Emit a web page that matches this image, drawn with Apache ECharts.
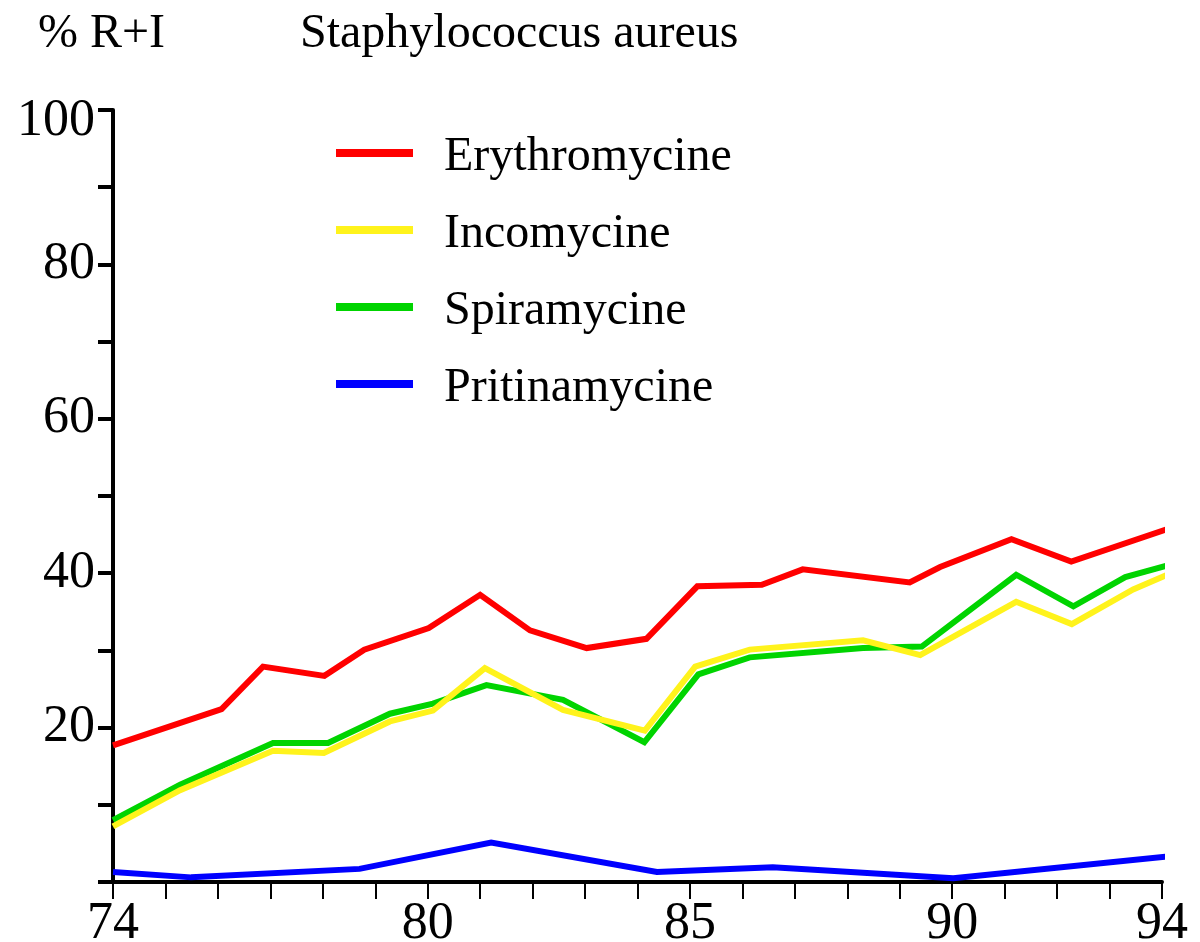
<!DOCTYPE html>
<html>
<head>
<meta charset="utf-8">
<title>Staphylococcus aureus</title>
<script src="https://cdn.jsdelivr.net/npm/echarts@6/dist/echarts.min.js"></script>
<style>
  html, body { margin: 0; padding: 0; background: #fff; }
  #chart { width: 1200px; height: 942px; }
</style>
</head>
<body>
<div id="chart"></div>
<script>
var eryYears = [74, 76.07, 76.86, 78.03, 78.79, 80.02, 81.0, 81.95, 83.03, 84.17, 85.14, 86.37, 87.15, 89.19, 89.77, 91.13, 92.27, 94.1]
var eryValues = [17.7, 22.4, 27.9, 26.7, 30.1, 32.9, 37.2, 32.6, 30.3, 31.5, 38.3, 38.5, 40.5, 38.8, 40.8, 44.4, 41.5, 45.7]

var incoYears = [74, 75.28, 77.05, 78.02, 79.28, 80.1, 81.09, 82.58, 84.14, 85.1, 86.14, 88.3, 89.39, 91.22, 92.28, 93.45, 94.1]
var incoValues = [7.2, 11.9, 17.0, 16.7, 20.8, 22.2, 27.7, 22.3, 19.6, 27.9, 30.1, 31.3, 29.4, 36.3, 33.4, 37.9, 39.8]

var spiraYears = [74, 75.28, 77.05, 78.1, 79.28, 80.1, 81.12, 82.58, 84.13, 85.16, 86.14, 88.3, 89.42, 91.22, 92.31, 93.3, 94.1]
var spiraValues = [8.0, 12.6, 18.0, 18.0, 21.8, 23.1, 25.5, 23.6, 18.1, 26.9, 29.1, 30.3, 30.5, 39.8, 35.7, 39.5, 41.0]

var pritiYears = [74, 75.49, 78.7, 81.21, 84.37, 86.58, 90.02, 94.1]
var pritiValues = [1.3, 0.6, 1.7, 5.1, 1.3, 1.9, 0.5, 3.3]

var xLabels = [74, 80, 85, 90, 94]
var yLabels = [20, 40, 60, 80, 100]

var seriesNames = ['Erythromycine', 'Incomycine', 'Spiramycine', 'Pritinamycine']
var seriesColors = ['#ff0000', '#fff31c', '#00d400', '#0000ff']

function pairs(xs, ys) {
  return xs.map(function (x, i) { return [x, ys[i]] })
}

var allData = [
  pairs(eryYears, eryValues),
  pairs(incoYears, incoValues),
  pairs(spiraYears, spiraValues),
  pairs(pritiYears, pritiValues)
]

var font = 'Liberation Serif, Times New Roman, serif'

var chart = echarts.init(document.getElementById('chart'))
chart.setOption({
  animation: false,
  backgroundColor: '#ffffff',
  title: [{
    text: '% R+I',
    left: 38,
    top: 10,
    padding: 0,
    textStyle: { fontFamily: font, fontSize: 48, fontWeight: 'normal', color: '#000' }
  }, {
    text: 'Staphylococcus aureus',
    left: 300,
    top: 10,
    padding: 0,
    textStyle: { fontFamily: font, fontSize: 48, fontWeight: 'normal', color: '#000' }
  }],
  legend: {
    data: seriesNames,
    orient: 'vertical',
    left: 336,
    top: 125,
    padding: 0,
    icon: 'rect',
    itemWidth: 77,
    itemHeight: 8,
    itemGap: 21,
    formatter: function (name) {
      return '{n|' + name + '}'
    },
    textStyle: {
      fontFamily: font,
      fontSize: 48,
      color: '#000',
      rich: {
        n: { fontFamily: font, fontSize: 48, lineHeight: 48, color: '#000', padding: [8, 0, 0, 26] }
      }
    }
  },
  grid: {
    left: 113,
    right: 38,
    top: 110,
    bottom: 60,
    containLabel: false,
    outerBoundsMode: 'none'
  },
  xAxis: {
    type: 'value',
    min: 74,
    max: 94,
    interval: 1,
    splitLine: { show: false },
    axisLine: { show: true, onZero: false, lineStyle: { color: '#000', width: 4 } },
    axisTick: { show: true, length: 17, lineStyle: { color: '#000', width: 2 } },
    axisLabel: {
      margin: 16,
      fontFamily: font,
      fontSize: 52,
      color: '#000',
      showMinLabel: true,
      showMaxLabel: true,
      formatter: function (v) {
        return xLabels.indexOf(v) >= 0 ? String(v) : ''
      }
    }
  },
  yAxis: {
    type: 'value',
    min: 0,
    max: 100,
    interval: 10,
    splitLine: { show: false },
    axisLine: { show: true, lineStyle: { color: '#000', width: 4 } },
    axisTick: { show: true, length: 15, lineStyle: { color: '#000', width: 4 } },
    axisLabel: {
      margin: 18,
      fontFamily: font,
      fontSize: 52,
      color: '#000',
      formatter: function (v) {
        if (v === 100) return '{top|100}'
        return yLabels.indexOf(v) >= 0 ? String(v) : ''
      },
      rich: {
        top: { fontFamily: font, fontSize: 52, color: '#000', align: 'right', padding: [22, 0, 0, 0] }
      }
    }
  },
  series: seriesNames.map(function (name, i) {
    return {
      name: name,
      type: 'line',
      data: allData[i],
      color: seriesColors[i],
      showSymbol: false,
      symbol: 'none',
      clip: false,
      z: 10 - i,
      lineStyle: { width: 6, color: seriesColors[i], join: 'miter', cap: 'butt' },
      itemStyle: { color: seriesColors[i] }
    }
  })
})
</script>
</body>
</html>
